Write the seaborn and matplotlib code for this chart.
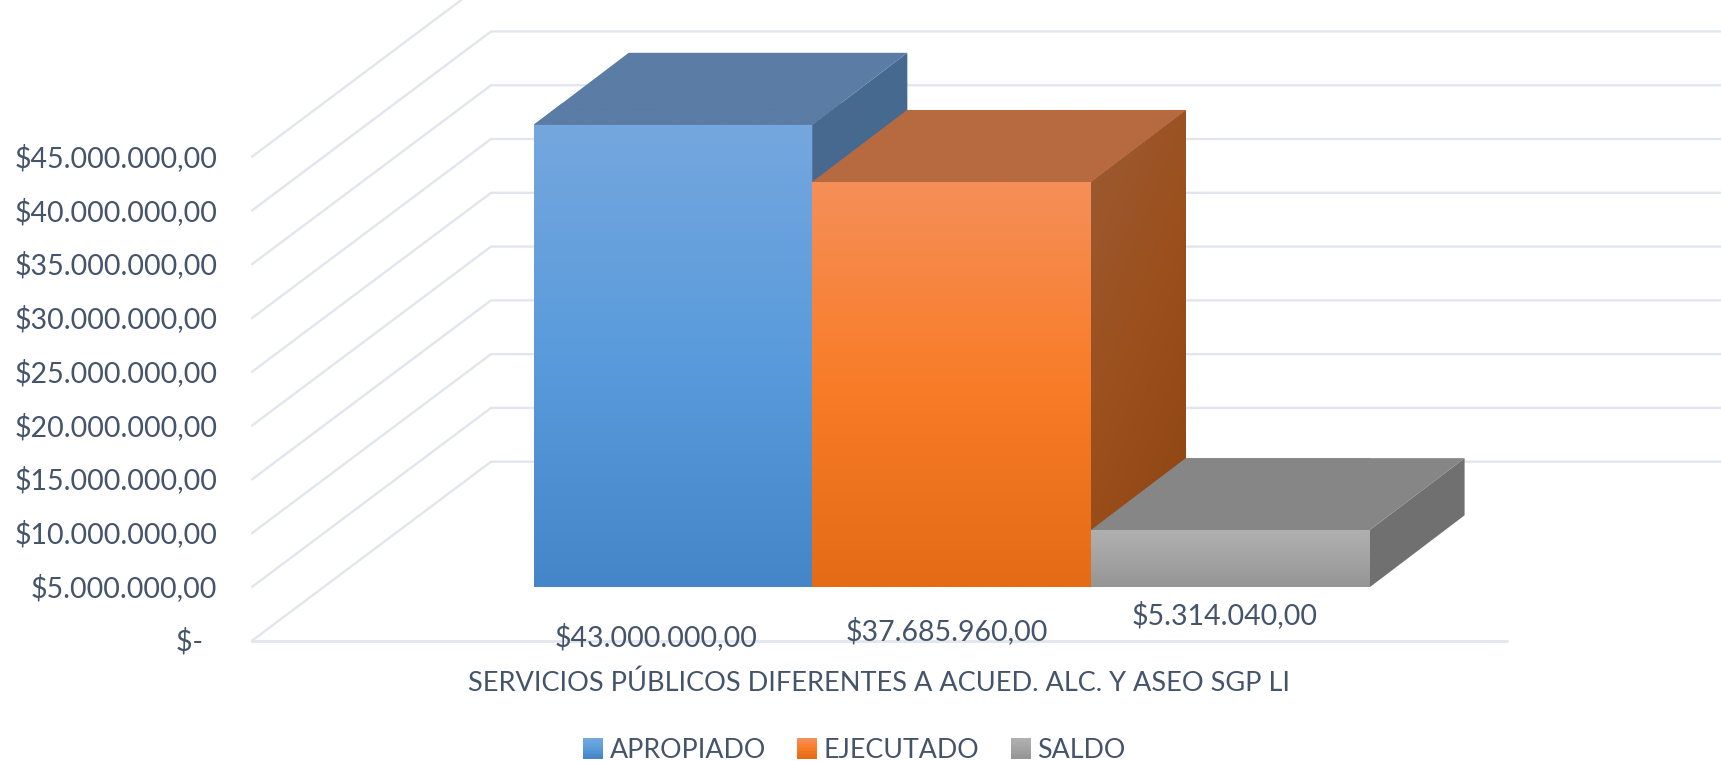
import numpy as np
import pandas as pd
import matplotlib
matplotlib.use("Agg")
import matplotlib.pyplot as plt
from matplotlib.colors import to_rgb
from matplotlib.legend_handler import HandlerBase
from matplotlib.patches import Polygon, Rectangle
from matplotlib.transforms import ScaledTranslation
import seaborn as sns

# ---- data ----
category = "SERVICIOS PÚBLICOS DIFERENTES A ACUED. ALC. Y ASEO SGP LI"
series = ["APROPIADO", "EJECUTADO", "SALDO"]
values = [43000000.0, 37685960.0, 5314040.0]
y_ticks = [0, 5e6, 10e6, 15e6, 20e6, 25e6, 30e6, 35e6, 40e6, 45e6]

# ---- style ----
W, H = 1721, 761
TEXT = "#44546a"
GRID = "#e2e6ec"
FONT = "Lato"
FS = 20.5
front_stops = [["#74a7de", "#5a9bdc", "#4586c9"],
               ["#f58f58", "#f97c28", "#e56b16"],
               ["#b0b0b0", "#a4a4a4", "#959595"]]
top_colors = ["#5a7ca5", "#b76a40", "#868686"]
side_stops = [["#48698f", "#466a8f", "#44688c"],
              ["#9c5b33", "#9b4f1c", "#8d4410"],
              ["#8e8e8e", "#707070", "#444444"]]
side_dirs = [(0.5, 1), (0.5, 1), (1, 1)]
label_offsets_px = [(-17, 50), (-5, 44), (-6, 28)]

# layout in pixels
wall_left, wall_right, wall_zero, wall_top = 252, 1507, 640.7, 156.7
bar_left, bar_right, bar_zero = 533.7, 1369.6, 587.3
wall_depth_px = (239, 179)
bar_depth_px = (95, 72)

sns.set_theme(style="white")
plt.rcParams["font.family"] = [FONT, "DejaVu Sans"]

fig = plt.figure(figsize=(W / 100, H / 100), dpi=100, facecolor="white")


def axes_at(x0, x1, y0, y1, **kw):
    return fig.add_axes([x0 / W, 1 - y0 / H, (x1 - x0) / W, (y0 - y1) / H], **kw)


# ---- wall and floor: real y axis, gridlines built from the ticks ----
ax_wall = axes_at(wall_left, wall_right, wall_zero, wall_top)
ax_wall.set_xlim(0, 1)
ax_wall.set_ylim(0, y_ticks[-1])
px_per_value = (wall_zero - wall_top) / y_ticks[-1]
wx = wall_depth_px[0] / (wall_right - wall_left)
wy = wall_depth_px[1] / px_per_value
for v in y_ticks:
    ax_wall.plot([0, wx, 1 + wx], [v, v + wy, v + wy], color=GRID, lw=1.7,
                 clip_on=False, solid_joinstyle="miter", zorder=1)
ax_wall.plot([0, 1], [0, 0], color=GRID, lw=2.0, clip_on=False, zorder=1)


def money(v):
    if v == 0:
        return "$-  "
    return "$" + f"{v:,.2f}".replace(",", "X").replace(".", ",").replace("X", ".")


ax_wall.set_yticks(y_ticks)
ax_wall.set_yticklabels([money(v) for v in y_ticks], color=TEXT, fontsize=FS)
ax_wall.tick_params(axis="y", length=0, pad=25)
for lab in ax_wall.get_yticklabels():
    lab.set_transform(lab.get_transform() + ScaledTranslation(0, 1.0 / 72, fig.dpi_scale_trans))
ax_wall.set_xticks([])
ax_wall.set_xlabel(category, color=TEXT, fontsize=19.5, labelpad=21.5)
for s in ax_wall.spines.values():
    s.set_visible(False)
ax_wall.patch.set_visible(False)

# ---- bars: seaborn front faces, gradients and depth on top ----
ax_bars = axes_at(bar_left, bar_right, bar_zero, bar_zero - (wall_zero - wall_top))
df = pd.DataFrame({"rubro": [category] * 3, "serie": series, "valor": values})
sns.barplot(data=df, x="rubro", y="valor", hue="serie", hue_order=series,
            width=1.0, gap=0, palette=[s[1] for s in front_stops],
            legend=False, ax=ax_bars, saturation=1, edgecolor="none", linewidth=0)
ax_bars.set_xlim(-0.5, 0.5)
ax_bars.set_ylim(0, y_ticks[-1])
ax_bars.axis("off")


def fill_gradient(verts, stops, direction, z):
    verts = np.asarray(verts)
    (x0, y0), (x1, y1) = verts.min(0), verts.max(0)
    n = 96
    u, w = np.meshgrid(np.linspace(0, 1, n), np.linspace(0, 1, n))
    t = u * direction[0] + (1 - w) * direction[1]
    t = (t - t.min()) / (t.max() - t.min())
    rgb = np.array([to_rgb(c) for c in stops])
    pos = np.linspace(0, 1, len(stops))
    img = np.dstack([np.interp(t, pos, rgb[:, i]) for i in range(3)])
    base = Polygon(verts, closed=True, fc=rgb[len(stops) // 2], ec="none",
                   transform=ax_bars.transData, zorder=z, clip_on=False)
    ax_bars.add_patch(base)
    im = ax_bars.imshow(img, extent=(x0, x1, y0, y1), origin="lower", aspect="auto",
                        interpolation="bilinear", zorder=z + 0.1)
    im.set_clip_path(base)


dx = bar_depth_px[0] / (bar_right - bar_left)
dy = bar_depth_px[1] / px_per_value
for i, bar in enumerate(ax_bars.patches[:3]):
    x0, x1 = bar.get_x(), bar.get_x() + bar.get_width()
    h = bar.get_height()
    z = 2 + i * 3
    bar.set_zorder(z + 2)
    fill_gradient([(x1, 0), (x1 + dx, dy), (x1 + dx, h + dy), (x1, h)],
                  side_stops[i], side_dirs[i], z)
    fill_gradient([(x0, h), (x1, h), (x1 + dx, h + dy), (x0 + dx, h + dy)],
                  [top_colors[i]] * 3, (0, 1), z + 1)
    fill_gradient([(x0, 0), (x1, 0), (x1, h), (x0, h)], front_stops[i], (0, 1), z + 2)
    ox, oy = label_offsets_px[i]
    ax_bars.annotate(money(values[i]), xy=((x0 + x1) / 2, 0), xycoords="data",
                     xytext=(ox * 0.72, -oy * 0.72), textcoords="offset points",
                     ha="center", va="center", color=TEXT, fontsize=FS,
                     annotation_clip=False, zorder=40)
ax_bars.set_xlim(-0.5, 0.5)
ax_bars.set_ylim(0, y_ticks[-1])


# ---- legend with gradient keys ----
class GradientKey(HandlerBase):
    def create_artists(self, legend, orig, xd, yd, width, height, fontsize, trans):
        stops = orig.stops
        rgb = np.array([to_rgb(c) for c in stops])
        pos = np.linspace(0, 1, len(stops))
        side = 20 * 0.72
        n = 14
        out = []
        for k in range(n):
            c = [np.interp(k / (n - 1), pos, rgb[:, j]) for j in range(3)]
            out.append(Rectangle((xd * -1 + width - side, -yd + (height - side) / 2 + side * (1 - (k + 1) / n)),
                                 side, side / n + 0.2, fc=c, ec="none", transform=trans))
        return out


handles = []
for s, stops in zip(series, front_stops):
    r = Rectangle((0, 0), 1, 1, label=s)
    r.stops = stops
    handles.append(r)
fig.legend(handles=handles, labels=series, loc="center", bbox_to_anchor=(851 / W, 1 - 750.5 / H),
           ncol=3, frameon=False, fontsize=19.3, labelcolor=TEXT,
           handler_map={Rectangle: GradientKey()},
           handlelength=1.0, handletextpad=0.24, columnspacing=0.92, borderpad=0)

fig.savefig("out.png", dpi=100, facecolor="white")
